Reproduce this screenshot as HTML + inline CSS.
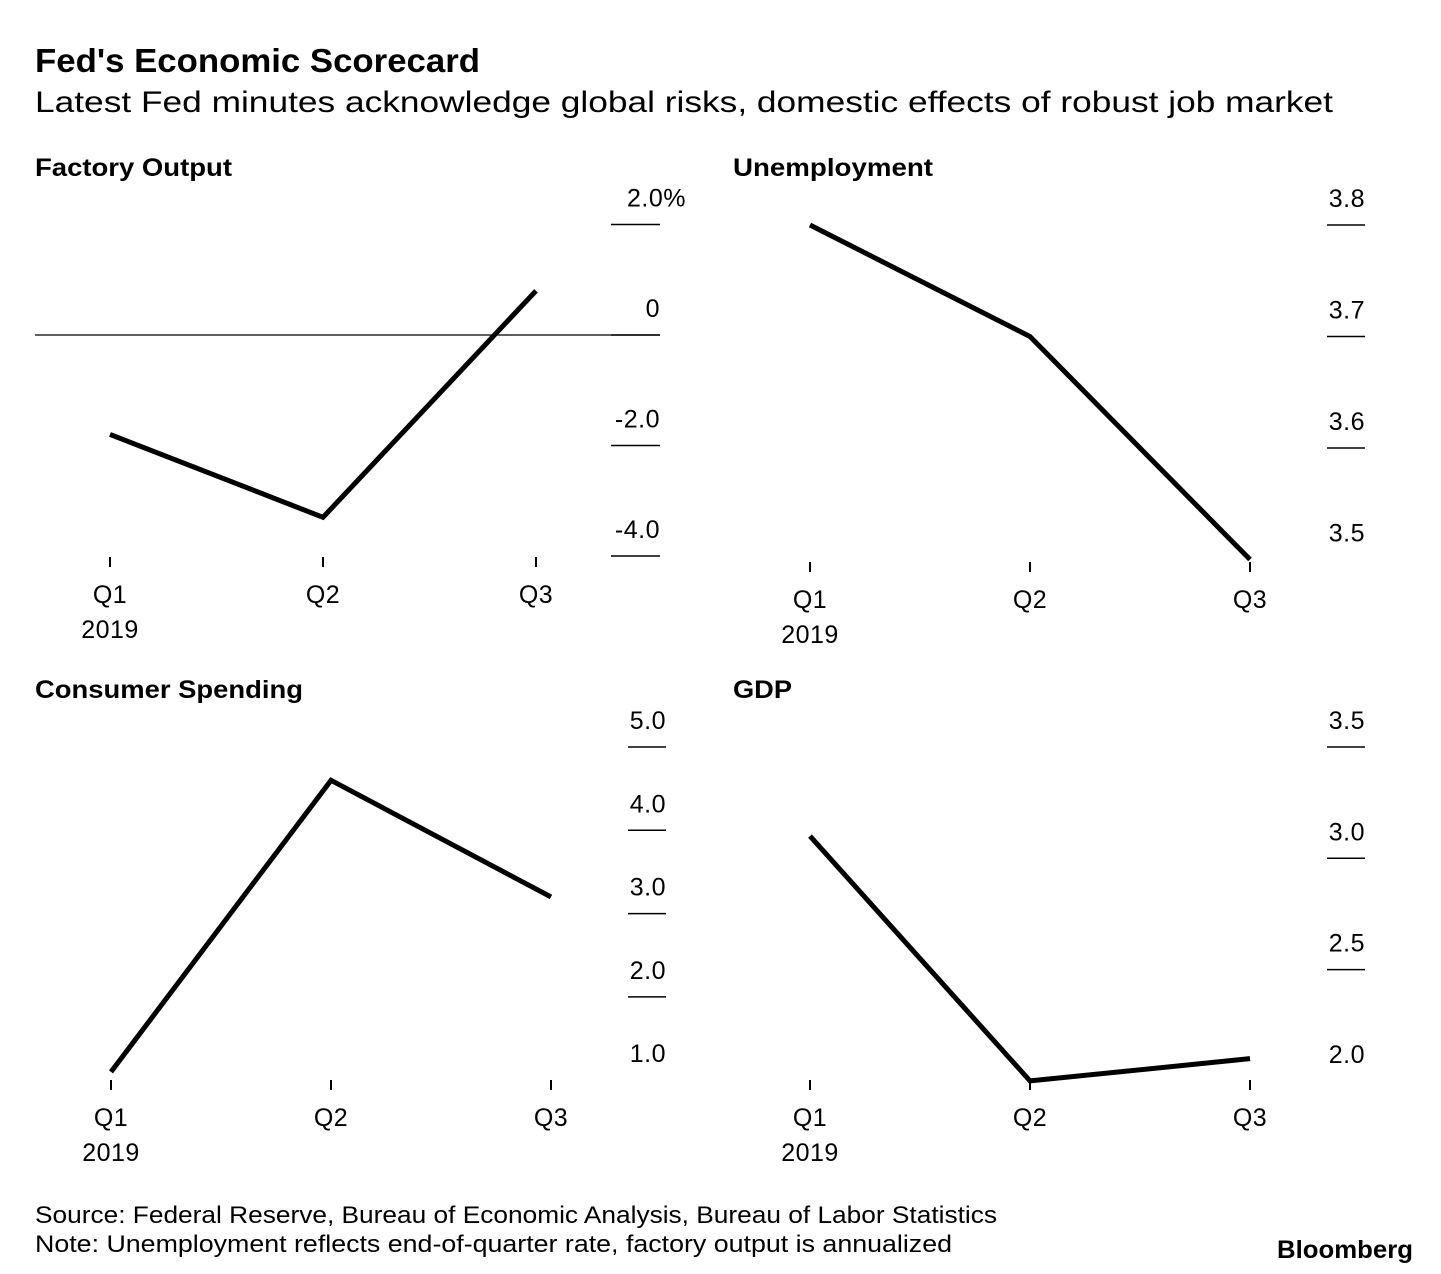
<!DOCTYPE html>
<html><head><meta charset="utf-8">
<style>
body{margin:0;background:#fff;}
svg{display:block;font-family:"Liberation Sans",sans-serif;}
</style></head>
<body>
<svg id="c" width="1441" height="1274" viewBox="0 0 1441 1274" xmlns="http://www.w3.org/2000/svg">
<text x="35" y="72" font-size="33" font-weight="bold" textLength="445" lengthAdjust="spacingAndGlyphs">Fed's Economic Scorecard</text>
<text x="35" y="112" font-size="30" textLength="1298" lengthAdjust="spacingAndGlyphs">Latest Fed minutes acknowledge global risks, domestic effects of robust job market</text>
<text x="35" y="1223" font-size="24" textLength="962" lengthAdjust="spacingAndGlyphs">Source: Federal Reserve, Bureau of Economic Analysis, Bureau of Labor Statistics</text>
<text x="35" y="1252" font-size="24" textLength="917" lengthAdjust="spacingAndGlyphs">Note: Unemployment reflects end-of-quarter rate, factory output is annualized</text>
<text x="1277" y="1258" font-size="25" font-weight="bold" textLength="136" lengthAdjust="spacingAndGlyphs">Bloomberg</text>
</svg>
<script>
const categories = ["Q1","Q2","Q3"];
const factoryValues = [-1.8, -3.3, 0.8];
const factoryTicks = [2, 0, -2, -4];
const factoryTickLabels = ["2.0%","0","-2.0","-4.0"];
const unempValues = [3.8, 3.7, 3.5];
const unempTicks = [3.8, 3.7, 3.6, 3.5];
const unempTickLabels = ["3.8","3.7","3.6","3.5"];
const spendValues = [1.1, 4.6, 3.2];
const spendTicks = [5, 4, 3, 2, 1];
const spendTickLabels = ["5.0","4.0","3.0","2.0","1.0"];
const gdpValues = [3.1, 2.0, 2.1];
const gdpTicks = [3.5, 3.0, 2.5, 2.0];
const gdpTickLabels = ["3.5","3.0","2.5","2.0"];

const svg = document.getElementById('c');
const NS = 'http://www.w3.org/2000/svg';
function mk(tag, attrs){const e=document.createElementNS(NS,tag);for(const k in attrs)e.setAttribute(k,attrs[k]);svg.appendChild(e);return e;}

function panel(p){
  const y = v => p.y0 + (p.v0 - v) * p.pxPer;
  const x = i => p.x0 + i * p.dx;
  const t = mk('text',{x:p.tx,y:p.ty,'font-size':25,'font-weight':'bold',textLength:p.titleLen,lengthAdjust:'spacingAndGlyphs'});
  t.textContent = p.title;
  
  
  p.ticks.forEach((v,i)=>{
    const yy = y(v);
    if(!(p.noLineLast && i===p.ticks.length-1)){
      const l = mk('line',{x1:p.right-p.tickW,x2:p.right,y1:yy,y2:yy,stroke:'#000','stroke-width':1.5});
      
      
    }
    const lbl = p.labels[i];
    const pct = lbl.endsWith('%');
    const lb = mk('text',{x:p.right + (pct?26:0),y:yy-18,'font-size':25,'text-anchor':'end','letter-spacing':'0.5'});
    lb.textContent = lbl;
    
    
  });
  if(p.zero){
    const z = mk('line',{x1:35,x2:p.right,y1:y(0),y2:y(0),stroke:'#000','stroke-width':1.3});
    
    
  }
  categories.forEach((c,i)=>{
    const tk = mk('line',{x1:x(i),x2:x(i),y1:p.xTickY,y2:p.xTickY+10,stroke:'#000','stroke-width':2});
    
    
    const lb = mk('text',{x:x(i),y:p.xTickY+46,'font-size':25,'text-anchor':'middle','letter-spacing':'0.5'});
    lb.textContent = c;
    
    
  });
  const yr = mk('text',{x:x(0),y:p.xTickY+81,'font-size':25,'text-anchor':'middle','letter-spacing':'0.5'});
  yr.textContent = '2019';
  
  
  const pts = p.values.map((v,i)=>x(i)+','+y(v)).join(' ');
  const pl = mk('polyline',{points:pts,fill:'none',stroke:'#000','stroke-width':5,'stroke-linejoin':'miter'});
  
  
}

panel({key:'factory-output',title:'Factory Output',titleLen:197,tx:35,ty:176,x0:110,dx:213,v0:0,y0:335,pxPer:55.25,
  right:660,tickW:49,ticks:factoryTicks,labels:factoryTickLabels,values:factoryValues,xTickY:557,zero:true});
panel({key:'unemployment',title:'Unemployment',titleLen:200,tx:733,ty:176,x0:810,dx:220,v0:3.8,y0:225,pxPer:1115,
  right:1365,tickW:38,ticks:unempTicks,labels:unempTickLabels,values:unempValues,xTickY:562,noLineLast:true});
panel({key:'consumer-spending',title:'Consumer Spending',titleLen:268,tx:35,ty:698,x0:111,dx:220,v0:5,y0:747,pxPer:83.3,
  right:666,tickW:38,ticks:spendTicks,labels:spendTickLabels,values:spendValues,xTickY:1080,noLineLast:true});
panel({key:'gdp',title:'GDP',titleLen:59,tx:733,ty:698,x0:810,dx:220,v0:3.5,y0:747,pxPer:222.6,
  right:1365,tickW:38,ticks:gdpTicks,labels:gdpTickLabels,values:gdpValues,xTickY:1080,noLineLast:true});
</script>
</body></html>
